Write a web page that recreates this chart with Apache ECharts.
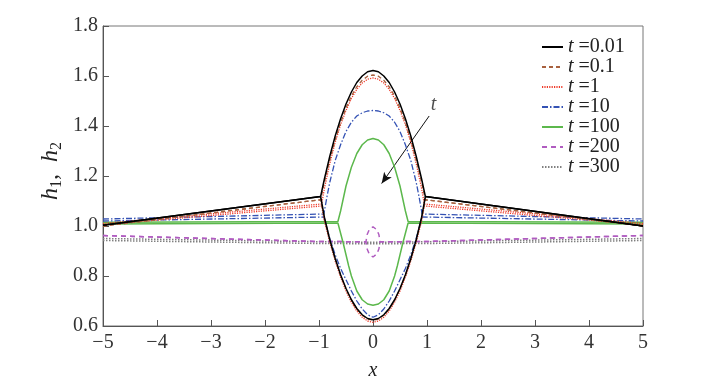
<!DOCTYPE html>
<html>
<head>
<meta charset="utf-8">
<script src="https://cdn.jsdelivr.net/npm/echarts@6/dist/echarts.min.js"></script>
<style>html,body{margin:0;padding:0;background:#fff}#c{width:713px;height:386px}</style>
</head>
<body>
<div id="c"></div>
<script>
// ---- data ----
var legendNames = ['t =0.01', 't =0.1', 't =1', 't =10', 't =100', 't =200', 't =300'];
var xTicks = [-5, -4, -3, -2, -1, 0, 1, 2, 3, 4, 5];
var yTicks = [0.6, 0.8, 1.0, 1.2, 1.4, 1.6, 1.8];

var t001_h1 = [[-5,1.003],[-0.97,1.118],[-0.9,1.188],[-0.8,1.279],[-0.7,1.36],[-0.6,1.429],[-0.5,1.488],[-0.4,1.536],[-0.3,1.574],[-0.2,1.6],[-0.1,1.617],[0,1.622],[0.1,1.617],[0.2,1.6],[0.3,1.574],[0.4,1.536],[0.5,1.488],[0.6,1.429],[0.7,1.36],[0.8,1.279],[0.9,1.188],[0.97,1.118],[5,1.0]];
var t001_h2 = [[-5,1.003],[-0.97,1.118],[-0.9,1.035],[-0.8,0.945],[-0.7,0.87],[-0.6,0.805],[-0.5,0.75],[-0.4,0.705],[-0.3,0.67],[-0.2,0.645],[-0.1,0.63],[0,0.625],[0.1,0.63],[0.2,0.645],[0.3,0.67],[0.4,0.705],[0.5,0.75],[0.6,0.805],[0.7,0.87],[0.8,0.945],[0.9,1.035],[0.97,1.118],[5,1.0]];

var t01_h1 = [[-5,1.0],[-0.97,1.105],[-0.9,1.175],[-0.8,1.265],[-0.7,1.345],[-0.6,1.413],[-0.5,1.472],[-0.4,1.52],[-0.3,1.557],[-0.2,1.583],[-0.1,1.599],[0,1.604],[0.1,1.599],[0.2,1.583],[0.3,1.557],[0.4,1.52],[0.5,1.472],[0.6,1.413],[0.7,1.345],[0.8,1.265],[0.9,1.175],[0.97,1.105],[5,1.0]];
var t01_h2 = [[-5,1.0],[-0.97,1.105],[-0.9,1.03],[-0.8,0.942],[-0.7,0.867],[-0.6,0.802],[-0.5,0.748],[-0.4,0.703],[-0.3,0.668],[-0.2,0.643],[-0.1,0.628],[0,0.623],[0.1,0.628],[0.2,0.643],[0.3,0.668],[0.4,0.703],[0.5,0.748],[0.6,0.802],[0.7,0.867],[0.8,0.942],[0.9,1.03],[0.97,1.105],[5,1.0]];

var t1_h1 = [[-5,1.01],[-0.95,1.088],[-0.9,1.15],[-0.8,1.25],[-0.7,1.335],[-0.6,1.405],[-0.5,1.462],[-0.4,1.51],[-0.3,1.547],[-0.2,1.572],[-0.1,1.587],[0,1.592],[0.1,1.587],[0.2,1.572],[0.3,1.547],[0.4,1.51],[0.5,1.462],[0.6,1.405],[0.7,1.335],[0.8,1.25],[0.9,1.15],[0.95,1.088],[5,1.01]];
var t1_h2 = [[-5,1.005],[-0.95,1.08],[-0.9,1.02],[-0.8,0.935],[-0.7,0.86],[-0.6,0.795],[-0.5,0.74],[-0.4,0.695],[-0.3,0.66],[-0.2,0.635],[-0.1,0.62],[0,0.615],[0.1,0.62],[0.2,0.635],[0.3,0.66],[0.4,0.695],[0.5,0.74],[0.6,0.795],[0.7,0.86],[0.8,0.935],[0.9,1.02],[0.95,1.08],[5,1.005]];

var t10_h1 = [[-5,1.028],[-0.91,1.048],[-0.85,1.12],[-0.8,1.175],[-0.7,1.262],[-0.6,1.325],[-0.5,1.378],[-0.4,1.415],[-0.3,1.44],[-0.2,1.453],[-0.1,1.46],[0,1.462],[0.1,1.46],[0.2,1.453],[0.3,1.44],[0.4,1.415],[0.5,1.378],[0.6,1.325],[0.7,1.262],[0.8,1.175],[0.85,1.12],[0.91,1.048],[5,1.028]];
var t10_h2 = [[-5,1.02],[-0.91,1.036],[-0.8,0.95],[-0.7,0.885],[-0.6,0.83],[-0.5,0.785],[-0.4,0.74],[-0.3,0.7],[-0.2,0.668],[-0.1,0.645],[0,0.635],[0.1,0.645],[0.2,0.668],[0.3,0.7],[0.4,0.74],[0.5,0.785],[0.6,0.83],[0.7,0.885],[0.8,0.95],[0.91,1.036],[5,1.02]];

var t100_h1 = [[-5,1.015],[-0.65,1.018],[-0.6,1.06],[-0.5,1.16],[-0.4,1.235],[-0.3,1.29],[-0.2,1.325],[-0.1,1.344],[0,1.35],[0.1,1.344],[0.2,1.325],[0.3,1.29],[0.4,1.235],[0.5,1.16],[0.6,1.06],[0.65,1.018],[5,1.015]];
var t100_h2 = [[-5,1.008],[-0.65,1.012],[-0.55,0.93],[-0.5,0.885],[-0.45,0.84],[-0.4,0.8],[-0.3,0.74],[-0.2,0.705],[-0.1,0.688],[0,0.683],[0.1,0.688],[0.2,0.705],[0.3,0.74],[0.4,0.8],[0.45,0.84],[0.5,0.885],[0.55,0.93],[0.65,1.012],[5,1.008]];

var t200_h1 = [[-5,0.962],[-1,0.938],[-0.13,0.937],[-0.11,0.965],[-0.07,0.985],[0,0.997],[0.07,0.985],[0.11,0.965],[0.13,0.937],[1,0.938],[5,0.962]];
var t200_h2 = [[-5,0.962],[-1,0.938],[-0.13,0.937],[-0.11,0.909],[-0.07,0.888],[0,0.876],[0.07,0.888],[0.11,0.909],[0.13,0.937],[1,0.938],[5,0.962]];

var t300_h1 = [[-5,0.95],[-1,0.937],[0,0.935],[1,0.937],[5,0.95]];
var t300_h2 = [[-5,0.942],[-1,0.93],[0,0.929],[1,0.93],[5,0.942]];

// annotation arrow (data coordinates) and its label
var arrowFrom = [1.04, 1.44];
var arrowTo = [0.16, 1.17];
var arrowLabelAt = [1.12, 1.485];

// ---- styles ----
var FONT = 'Liberation Serif';
var styles = [
  {color:'#000000', type:'solid', width:1.5},
  {color:'#a8613f', type:[4,3], width:1.3},
  {color:'#ee3b2a', type:[1.2,1.2], width:1.3},
  {color:'#3452b4', type:[6,2,1.5,2], width:1.3},
  {color:'#5cb84c', type:'solid', width:1.5},
  {color:'#b05cc0', type:[5,4], width:1.5},
  {color:'#808080', type:[1.5,1.5], width:1.5}
];
var curves = [[t001_h1,t001_h2],[t01_h1,t01_h2],[t1_h1,t1_h2],[t10_h1,t10_h2],[t100_h1,t100_h2],[t200_h1,t200_h2],[t300_h1,t300_h2]];

var series = [];
// draw later times first so early curves sit on top
for (var i = curves.length - 1; i >= 0; i--) {
  for (var k = 0; k < 2; k++) {
    series.push({
      type:'line', name: legendNames[i], data: curves[i][k], symbol:'none', symbolSize:0, smooth:false,
      color: styles[i].color,
      lineStyle:{color:styles[i].color, type:styles[i].type, width:styles[i].width},
      emphasis:{disabled:true}, silent:true, animation:false, z: 10 - i
    });
  }
}
// arrow annotation
series.push({
  type:'line', data:[], symbol:'none', silent:true, animation:false,
  markLine:{
    silent:true, symbol:['none','arrow'], symbolSize:[7,11], animation:false,
    lineStyle:{color:'#111', type:'solid', width:1},
    label:{show:false},
    data:[[{coord:arrowFrom},{coord:arrowTo}]]
  }
});
series.push({
  type:'scatter', data:[arrowLabelAt], symbolSize:0, silent:true, animation:false,
  label:{show:true, position:'inside', formatter:'t', fontFamily:FONT, fontStyle:'italic', fontSize:20, color:'#222'}
});

var chart = echarts.init(document.getElementById('c'), null, {renderer:'canvas'});
chart.setOption({
  animation:false,
  backgroundColor:'#fff',
  grid:{left:103, right:70, top:26, bottom:59, show:true, borderColor:'#777', borderWidth:1, backgroundColor:'transparent'},
  xAxis:{
    type:'value', min:-5, max:5, interval:1,
    axisLine:{show:true, onZero:false, lineStyle:{color:'#555', width:1}},
    axisTick:{show:true, inside:true, length:6, lineStyle:{color:'#555'}},
    splitLine:{show:false},
    axisLabel:{color:'#333', fontFamily:FONT, fontSize:20, margin:7,
      formatter:function(v){ return v < 0 ? '\u2212' + Math.abs(v) : String(v); }},
    name:'x', nameLocation:'middle', nameGap:35,
    nameTextStyle:{color:'#222', fontFamily:FONT, fontStyle:'italic', fontSize:20}
  },
  yAxis:{
    type:'value', min:0.6, max:1.8, interval:0.2,
    axisLine:{show:true, onZero:false, lineStyle:{color:'#555', width:1}},
    axisTick:{show:true, inside:true, length:6, lineStyle:{color:'#555'}},
    splitLine:{show:false},
    axisLabel:{color:'#333', fontFamily:FONT, fontSize:20, margin:5,
      formatter:function(v){ return v.toFixed(1); }}
  },
  legend:{
    data: legendNames, orient:'vertical', left:541, top:37,
    itemWidth:21, itemHeight:10, itemGap:0, padding:0,
    selectedMode:false,
    itemStyle:{opacity:0, borderWidth:0, color:'rgba(0,0,0,0)'},
    textStyle:{color:'#222', fontFamily:FONT, fontSize:20, lineHeight:18,
      rich:{i:{fontFamily:FONT, fontStyle:'italic', fontSize:20, lineHeight:18, color:'#222'},
            n:{fontFamily:FONT, fontSize:20, lineHeight:18, color:'#222'}}},
    formatter:function(n){ return '{i|t}{n| ' + n.slice(2) + '}'; }
  },
  graphic:[{
    type:'text', x:51, y:171, rotation:Math.PI/2,
    style:{
      text:'{h|h}{s|1}{c|,  }{h|h}{s|2}',
      align:'center', verticalAlign:'middle',
      rich:{
        h:{fontFamily:FONT, fontStyle:'italic', fontSize:24, lineHeight:22, verticalAlign:'middle', fill:'#222'},
        s:{fontFamily:FONT, fontSize:16, lineHeight:28, verticalAlign:'bottom', fill:'#222'},
        c:{fontFamily:FONT, fontSize:24, lineHeight:22, verticalAlign:'middle', fill:'#222'}
      }
    }
  }],
  series: series
});
</script>
</body>
</html>
